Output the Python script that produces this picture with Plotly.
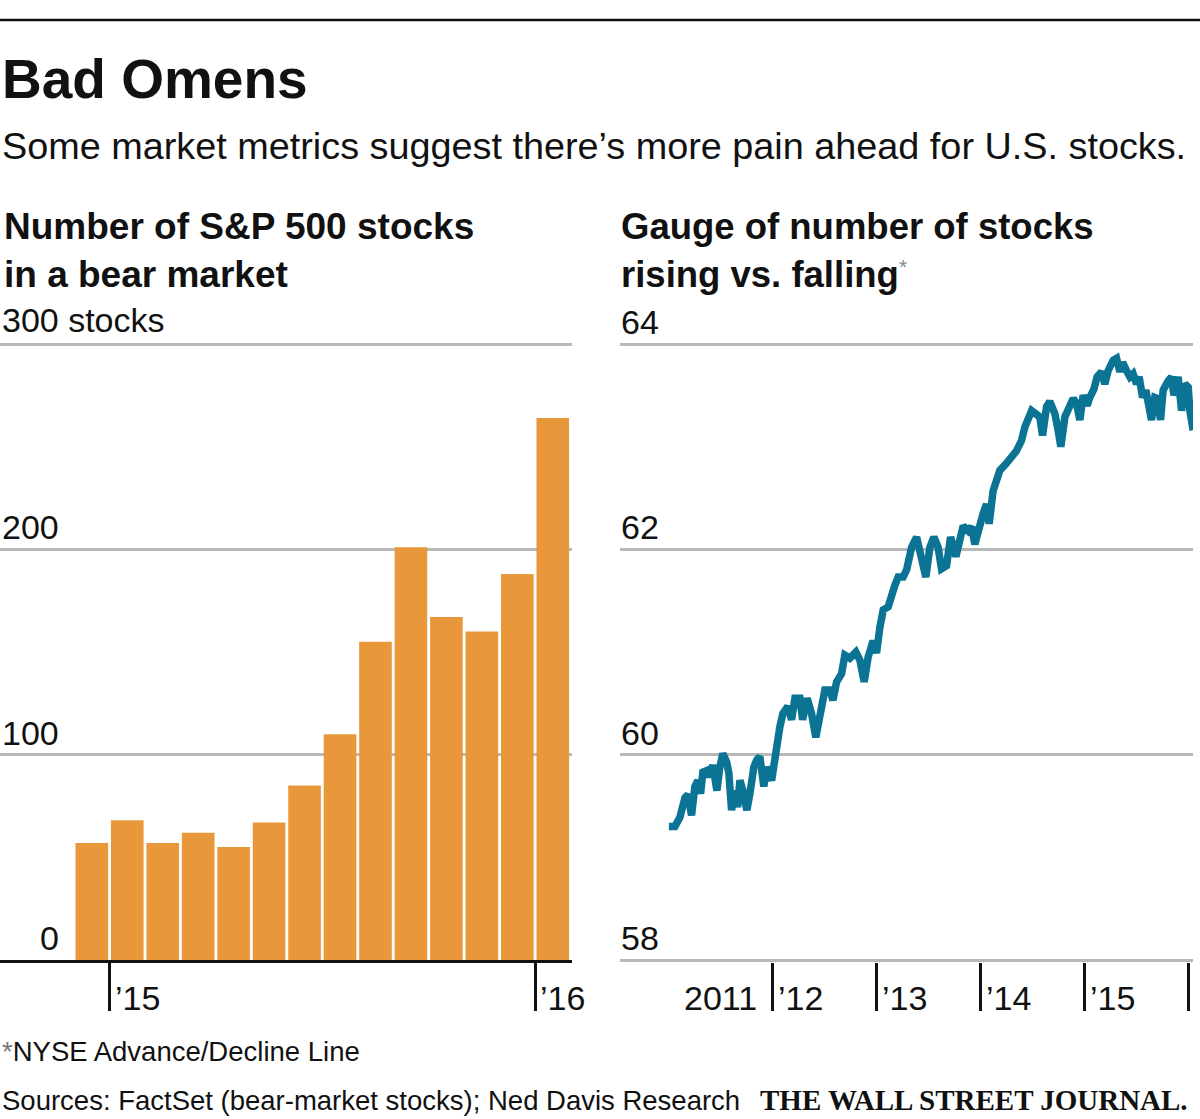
import plotly.graph_objects as go

# ---------------- data ----------------
months = ["Dec 2014", "Jan 2015", "Feb 2015", "Mar 2015", "Apr 2015", "May 2015", "Jun 2015",
          "Jul 2015", "Aug 2015", "Sep 2015", "Oct 2015", "Nov 2015", "Dec 2015", "Jan 2016"]
bear_stocks = [57, 68, 57, 62, 55, 67, 85, 110, 155, 201, 167, 160, 188, 264]
bar_year_ticks = ["Jan 2015", "Jan 2016"]
bar_year_labels = ["\u201915", "\u201916"]
bar_y_ticks = [0, 100, 200, 300]
bar_y_labels = ["0", "100", "200", "300 stocks"]

ad_year = [2011.000, 2011.058, 2011.106, 2011.154, 2011.183, 2011.218, 2011.250, 2011.279, 2011.305,
           2011.327, 2011.375, 2011.394, 2011.423, 2011.462, 2011.490, 2011.519, 2011.555, 2011.577,
           2011.603, 2011.635, 2011.661, 2011.683, 2011.712, 2011.750, 2011.779, 2011.817, 2011.846,
           2011.875, 2011.913, 2011.939, 2011.988, 2012.019, 2012.067, 2012.096, 2012.144, 2012.180,
           2012.212, 2012.260, 2012.286, 2012.330, 2012.372, 2012.413, 2012.452, 2012.500, 2012.548,
           2012.577, 2012.613, 2012.661, 2012.692, 2012.740, 2012.798, 2012.837, 2012.878, 2012.916,
           2012.964, 2012.997, 2013.029, 2013.061, 2013.109, 2013.132, 2013.173, 2013.205, 2013.253,
           2013.286, 2013.334, 2013.382, 2013.430, 2013.471, 2013.510, 2013.548, 2013.589, 2013.622,
           2013.670, 2013.709, 2013.760, 2013.798, 2013.830, 2013.878, 2013.911, 2013.942, 2013.990,
           2014.022, 2014.055, 2014.080, 2014.118, 2014.151, 2014.183, 2014.240, 2014.295, 2014.343,
           2014.391, 2014.423, 2014.488, 2014.536, 2014.567, 2014.593, 2014.632, 2014.663, 2014.712,
           2014.743, 2014.769, 2014.808, 2014.856, 2014.888, 2014.920, 2014.952, 2014.984, 2015.022,
           2015.048, 2015.087, 2015.118, 2015.161, 2015.192, 2015.224, 2015.272, 2015.305, 2015.337,
           2015.363, 2015.401, 2015.433, 2015.464, 2015.497, 2015.522, 2015.555, 2015.587, 2015.609,
           2015.641, 2015.673, 2015.699, 2015.728, 2015.753, 2015.801, 2015.834, 2015.856, 2015.897,
           2015.930, 2015.962, 2015.994, 2016.010, 2016.042]
ad_value = [59.30, 59.30, 59.39, 59.58, 59.61, 59.41, 59.69, 59.75, 59.62,
            59.83, 59.85, 59.78, 59.90, 59.65, 59.88, 60.01, 59.93, 59.82,
            59.46, 59.65, 59.49, 59.75, 59.65, 59.46, 59.62, 59.88, 59.95,
            59.98, 59.69, 59.88, 59.75, 59.98, 60.27, 60.40, 60.47, 60.34,
            60.55, 60.55, 60.34, 60.55, 60.40, 60.17, 60.40, 60.63, 60.63,
            60.53, 60.71, 60.79, 60.97, 60.94, 61.00, 60.92, 60.71, 60.95,
            61.11, 60.99, 61.24, 61.41, 61.44, 61.54, 61.65, 61.73, 61.73,
            61.80, 62.02, 62.12, 61.89, 61.73, 62.02, 62.12, 62.02, 61.81,
            61.84, 62.12, 61.93, 62.15, 62.23, 62.18, 62.22, 62.05, 62.28,
            62.35, 62.44, 62.25, 62.57, 62.70, 62.77, 62.83, 62.90, 62.96,
            63.06, 63.19, 63.35, 63.30, 63.29, 63.11, 63.39, 63.44, 63.32,
            63.16, 63.00, 63.29, 63.40, 63.47, 63.42, 63.26, 63.50, 63.40,
            63.48, 63.56, 63.68, 63.73, 63.61, 63.74, 63.84, 63.86, 63.73,
            63.82, 63.74, 63.68, 63.71, 63.61, 63.68, 63.48, 63.55, 63.45,
            63.26, 63.48, 63.47, 63.26, 63.55, 63.64, 63.68, 63.50, 63.68,
            63.35, 63.61, 63.58, 63.35, 63.16]
ad_year_ticks = [2012, 2013, 2014, 2015, 2016]
ad_year_labels = ["2011", "\u201912", "\u201913", "\u201914", "\u201915"]
ad_y_ticks = [58, 60, 62, 64]
ad_y_labels = ["58", "60", "62", "64"]

# ---------------- styles ----------------
W, H = 1200, 1119
FONT = "Liberation Sans, Arial, sans-serif"
BAR_COLOR = "#E8973A"
LINE_COLOR = "#0B7393"
GRID = "#B8B8B8"


def px(x):
    return x / W


def py(y):
    return 1 - y / H


bar_x = list(range(len(months)))
bar_tick_pos = [months.index(m) - 0.5 for m in bar_year_ticks]

fig = go.Figure()
fig.add_trace(go.Bar(x=bar_x, y=bear_stocks, marker=dict(color=BAR_COLOR, line=dict(width=0)),
                     width=0.92, xaxis="x", yaxis="y", hoverinfo="skip"))
fig.add_trace(go.Scatter(x=ad_year, y=ad_value, mode="lines",
                         line=dict(color=LINE_COLOR, width=7.5), xaxis="x2", yaxis="y2",
                         hoverinfo="skip"))

fig.update_layout(
    width=W, height=H, margin=dict(l=0, r=0, t=0, b=0),
    paper_bgcolor="white", plot_bgcolor="white", showlegend=False,
    font=dict(family=FONT, color="#111111"),
    xaxis=dict(domain=[px(0), px(572)], range=[-2.589, 13.542], showgrid=False, zeroline=False,
               tickmode="array", tickvals=bar_tick_pos, ticks="outside", ticklen=48,
               tickwidth=2.5, tickcolor="#111111", showticklabels=False,
               showline=True, linecolor="#111111", linewidth=2.5, fixedrange=True),
    yaxis=dict(domain=[py(960), py(339.9)], range=[0, 302], tickmode="array",
               tickvals=bar_y_ticks, showticklabels=False, showgrid=True, gridcolor=GRID,
               gridwidth=2.5, zeroline=False, ticks="", fixedrange=True),
    xaxis2=dict(domain=[px(620), px(1193)], range=[2010.53, 2016.04], showgrid=False,
                zeroline=False, tickmode="array", tickvals=ad_year_ticks, ticks="outside",
                ticklen=48, tickwidth=2.5, tickcolor="#111111", showticklabels=False,
                showline=False, anchor="y2", fixedrange=True),
    yaxis2=dict(domain=[py(962.1), py(339.9)], range=[57.98, 64.04], tickmode="array",
                tickvals=ad_y_ticks, showticklabels=False, showgrid=True, gridcolor=GRID,
                gridwidth=2.5, zeroline=False, ticks="", anchor="x2", fixedrange=True),
)

ann = []


def text(x, y, s, size, bold=False, xanchor="left", family=FONT, color="#111111", xref="paper",
         yref="paper", yshift=0):
    ann.append(dict(x=x, y=y, xref=xref, yref=yref, text=(f"<b>{s}</b>" if bold else s),
                    showarrow=False, xanchor=xanchor, yanchor="middle", yshift=yshift,
                    font=dict(size=size, family=family, color=color)))


text(px(0), py(79), "Bad Omens", 55, bold=True)
text(px(0), py(146), "Some market metrics suggest there\u2019s more pain ahead for U.S. stocks.", 37.8)
text(px(2), py(226), "Number of S&P 500 stocks", 37, bold=True)
text(px(2), py(274), "in a bear market", 37, bold=True)
text(px(619), py(226), "Gauge of number of stocks", 36.5, bold=True)
text(px(619), py(274), "rising vs. falling<span style='color:#888888;font-size:30px;font-weight:normal'><sup>*</sup></span>", 36.5, bold=True)

# left y labels
for v, lab in zip(bar_y_ticks, bar_y_labels):
    if v == max(bar_y_ticks):
        text(px(0), v, lab, 34, yref="y", yshift=24)
    else:
        text(px(61), v, lab, 34, xanchor="right", yref="y", yshift=22)
# right y labels
for v, lab in zip(ad_y_ticks, ad_y_labels):
    text(px(619), v, lab, 34, yref="y2", yshift=22)

# x labels
for pos, lab in zip(bar_tick_pos, bar_year_labels):
    ann.append(dict(x=pos, y=py(998), xref="x", yref="paper", text=lab, showarrow=False,
                    xanchor="left", yanchor="middle", xshift=3,
                    font=dict(size=34, family=FONT, color="#111111")))
prev = [2011] + ad_year_ticks[:-1]
for i, (pos, lab) in enumerate(zip(ad_year_ticks, ad_year_labels)):
    if i == 0:
        ann.append(dict(x=(prev[0] + pos) / 2, y=py(998), xref="x2", yref="paper", text=lab,
                        showarrow=False, xanchor="center", yanchor="middle",
                        font=dict(size=34, family=FONT, color="#111111")))
    else:
        ann.append(dict(x=prev[i], y=py(998), xref="x2", yref="paper", text=lab,
                        showarrow=False, xanchor="left", yanchor="middle", xshift=3,
                        font=dict(size=34, family=FONT, color="#111111")))

text(px(0), py(1051), "<span style='color:#777777'>*</span>NYSE Advance/Decline Line", 27.5)
text(px(0), py(1100), "Sources: FactSet (bear-market stocks); Ned Davis Research", 27.5)
text(px(1190), py(1100), "THE WALL STREET JOURNAL.", 29, bold=True, xanchor="right",
     family="Liberation Serif, Times New Roman, serif")

fig.update_layout(annotations=ann)
fig.add_shape(type="line", xref="paper", yref="paper", x0=0, x1=1, y0=py(20), y1=py(20),
              line=dict(color="#111111", width=2.5))

fig.write_html("out.html", config={"displayModeBar": False},
               post_script="document.body.style.margin='0px';document.body.style.overflow='hidden';")
